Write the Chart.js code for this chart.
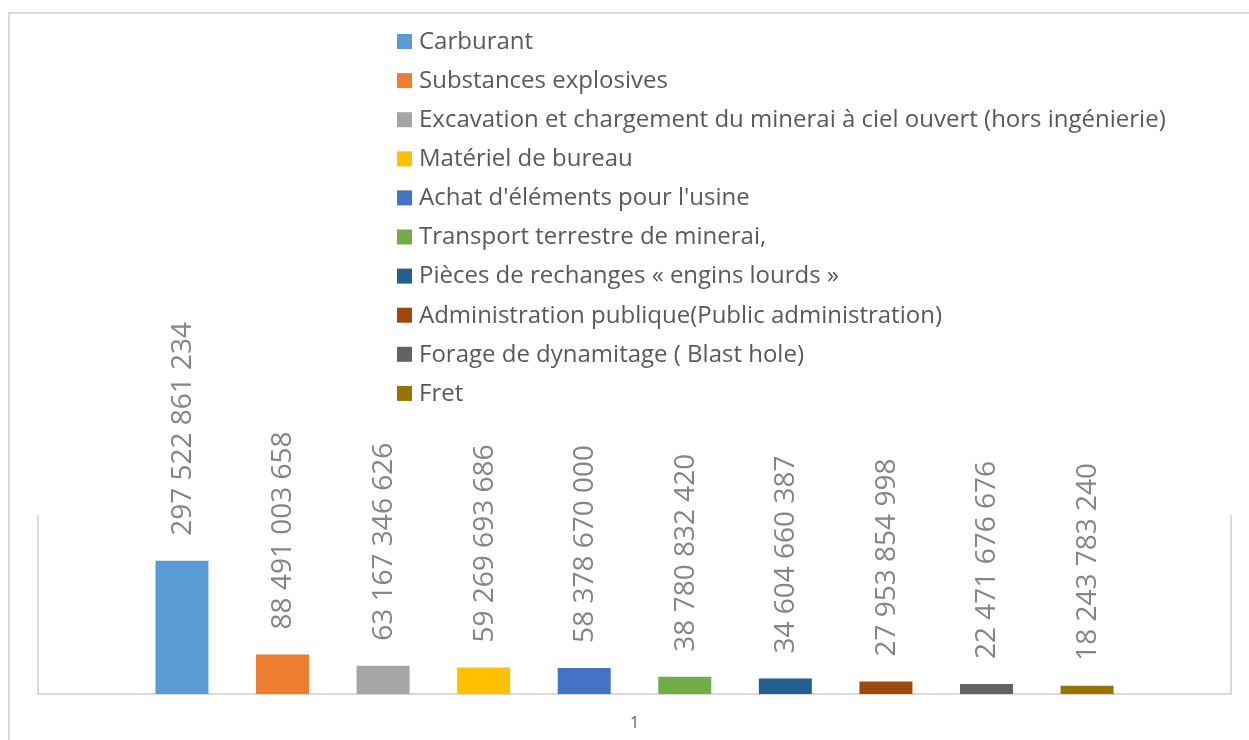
<!DOCTYPE html>
<html>
<head>
    <meta charset="UTF-8">
    <title>Dépenses par catégorie</title>
    <style>
        html, body { margin: 0; padding: 0; background: #fff; }
        .chart-container { position: relative; width: 1249px; height: 740px; }
    </style>
</head>
<body>
    <div class="chart-container">
        <canvas id="depensesChart"></canvas>
    </div>

    <script src="https://cdn.jsdelivr.net/npm/chart.js"></script>
    <script>
        // Données du graphique
        const categories = ['1'];
        const seriesNames = [
            'Carburant',
            'Substances explosives',
            'Excavation et chargement du minerai à ciel ouvert (hors ingénierie)',
            'Matériel de bureau',
            "Achat d'éléments pour l'usine",
            'Transport terrestre de minerai,',
            'Pièces de rechanges « engins lourds »',
            'Administration publique(Public administration)',
            'Forage de dynamitage ( Blast hole)',
            'Fret'
        ];
        const seriesValues = [
            297522861234,
            88491003658,
            63167346626,
            59269693686,
            58378670000,
            38780832420,
            34604660387,
            27953854998,
            22471676676,
            18243783240
        ];
        const seriesColors = [
            '#5B9BD5', '#ED7D31', '#A5A5A5', '#FFC000', '#4472C4',
            '#70AD47', '#255E91', '#9E480E', '#636363', '#997300'
        ];

        const FONT = '"Open Sans", "Noto Sans", sans-serif';

        // Format avec espaces comme séparateur de milliers
        const formatNumber = (v) => String(v).replace(/\B(?=(\d{3})+(?!\d))/g, ' ');

        // Cadre extérieur + bordures de la zone de tracé
        const framePlugin = {
            id: 'frame',
            beforeDraw(chart) {
                const ctx = chart.ctx;
                const a = chart.chartArea;
                ctx.save();
                ctx.strokeStyle = '#d9d9d9';
                ctx.lineWidth = 2;
                ctx.strokeRect(9, 13, 1400, 900);
                ctx.beginPath();
                ctx.moveTo(a.left, a.top);
                ctx.lineTo(a.left, a.bottom);
                ctx.lineTo(a.right, a.bottom);
                ctx.lineTo(a.right, a.top);
                ctx.stroke();
                ctx.restore();
            }
        };

        // Légende verticale superposée
        const legendPlugin = {
            id: 'vlegend',
            afterDraw(chart) {
                const ctx = chart.ctx;
                ctx.save();
                ctx.font = '24px ' + FONT;
                ctx.textBaseline = 'middle';
                ctx.textAlign = 'left';
                chart.data.datasets.forEach((ds, i) => {
                    const y = 41 + i * 39.1;
                    ctx.fillStyle = ds.backgroundColor;
                    ctx.fillRect(397, y - 7, 15, 15);
                    ctx.fillStyle = '#595959';
                    ctx.fillText(ds.label, 419, y + 1);
                });
                ctx.restore();
            }
        };

        // Étiquettes de valeurs verticales au-dessus des barres
        const valueLabelPlugin = {
            id: 'valueLabels',
            afterDatasetsDraw(chart) {
                const ctx = chart.ctx;
                ctx.save();
                ctx.font = '28px ' + FONT;
                ctx.fillStyle = '#858585';
                ctx.textAlign = 'left';
                ctx.textBaseline = 'middle';
                chart.data.datasets.forEach((ds, i) => {
                    const meta = chart.getDatasetMeta(i);
                    meta.data.forEach((bar, j) => {
                        ctx.save();
                        ctx.translate(bar.x + 1, bar.y - 25);
                        ctx.rotate(-Math.PI / 2);
                        ctx.fillText(formatNumber(ds.data[j]), 0, 0);
                        ctx.restore();
                    });
                });
                ctx.restore();
            }
        };

        const datasets = seriesNames.map((name, i) => ({
            label: name,
            data: [seriesValues[i]],
            backgroundColor: seriesColors[i],
            borderWidth: 0,
            categoryPercentage: 0.843,
            barPercentage: 0.527
        }));

        new Chart(document.getElementById('depensesChart'), {
            type: 'bar',
            data: { labels: categories, datasets: datasets },
            options: {
                responsive: true,
                maintainAspectRatio: false,
                animation: false,
                layout: { padding: { top: 515, left: 38, right: 18, bottom: 0 } },
                plugins: {
                    legend: { display: false },
                    tooltip: { enabled: false }
                },
                scales: {
                    x: {
                        grid: { display: false },
                        border: { display: false },
                        ticks: {
                            color: '#595959',
                            font: { family: FONT, size: 16 },
                            padding: 12
                        },
                        afterFit(scale) { scale.height = 46; }
                    },
                    y: {
                        display: false,
                        min: 0,
                        max: 400000000000
                    }
                }
            },
            plugins: [framePlugin, legendPlugin, valueLabelPlugin]
        });
    </script>
</body>
</html>
